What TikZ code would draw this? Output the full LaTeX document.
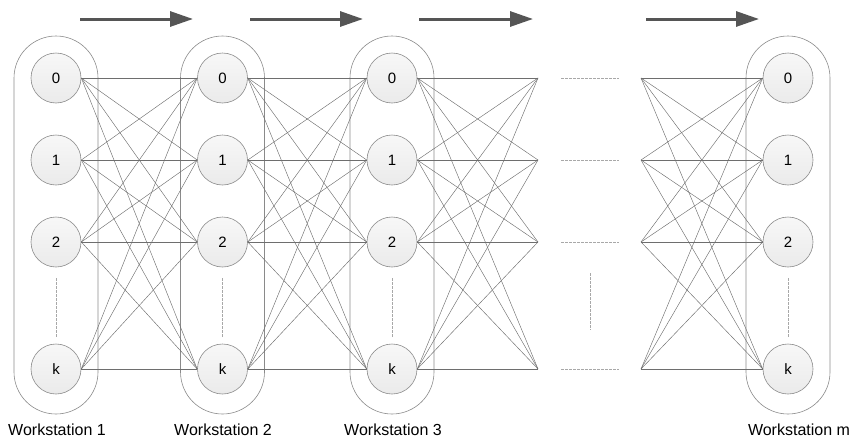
\documentclass[tikz,border=0pt]{standalone}
\usepackage{fontspec}
\setmainfont{Liberation Sans}
\usetikzlibrary{arrows.meta}
\definecolor{linegray}{HTML}{6E6E6E}
\definecolor{boxgray}{HTML}{8A8A8A}
\definecolor{arrowgray}{HTML}{555555}
\definecolor{dashgray}{HTML}{A8A8A8}
\begin{document}
\begin{tikzpicture}[x=1pt,y=-1pt,
  station/.style={draw=boxgray,line width=0.6pt,rounded corners=42pt},
  job/.style={circle,draw=boxgray,line width=0.6pt,top color=black!3,bottom color=black!8,minimum size=50pt,inner sep=0pt,font=\fontsize{15}{15}\selectfont},
  link/.style={draw=linegray,line width=0.45pt},
  flow/.style={draw=arrowgray,line width=3pt,-{Triangle[length=23pt,width=15pt]}},
  gap/.style={draw=dashgray,line width=0.6pt,dash pattern=on 2.5pt off 1.5pt},
  wslabel/.style={font=\fontsize{16}{16}\selectfont,anchor=base}]
\useasboundingbox (0,0) rectangle (856,442);
% containers
\draw[station] (14,36) rectangle (98,414);
\draw[station] (180.5,36) rectangle (264.5,414);
\draw[station] (350,36) rectangle (434,414);
\draw[station] (746,36) rectangle (830,414);
% nodes
\foreach \w/\x in {1/56,2/222.5,3/392,m/788}{
  \node[job] (w\w n0) at (\x,78) {0};
  \node[job] (w\w n1) at (\x,160) {1};
  \node[job] (w\w n2) at (\x,242) {2};
  \node[job] (w\w nk) at (\x,369) {k};
  \draw[gap] (\x,278) -- (\x,337);
}
% fan end points
\foreach \r/\y in {0/78,1/160,2/242,k/369}{
  \coordinate (fa\r) at (538,\y);
  \coordinate (fb\r) at (641,\y);
  \coordinate (da\r) at (561,\y);
  \coordinate (db\r) at (619,\y);
  \draw[gap] (da\r) -- (db\r);
}
\coordinate (vd1) at (590,273);
\coordinate (vd2) at (590,330);
\draw[gap] (vd1) -- (vd2);
% links
\foreach \i in {0,1,2,k}{
  \foreach \j in {0,1,2,k}{
    \draw[link] (w1n\i.east) -- (w2n\j.west);
    \draw[link] (w2n\i.east) -- (w3n\j.west);
    \draw[link] (w3n\i.east) -- (fa\j);
    \draw[link] (fb\i) -- (wmn\j.west);
  }
}
% arrows
\coordinate (a1s) at (80,19);  \coordinate (a1e) at (193,19);
\coordinate (a2s) at (250,19); \coordinate (a2e) at (363,19);
\coordinate (a3s) at (419,19); \coordinate (a3e) at (533,19);
\coordinate (a4s) at (646,19); \coordinate (a4e) at (759,19);
\draw[flow] (a1s) -- (a1e);
\draw[flow] (a2s) -- (a2e);
\draw[flow] (a3s) -- (a3e);
\draw[flow] (a4s) -- (a4e);
% labels
\node[wslabel] (l1) at (57,435) {Workstation 1};
\node[wslabel] (l2) at (223,435) {Workstation 2};
\node[wslabel] (l3) at (393,435) {Workstation 3};
\node[wslabel] (lm) at (799,435) {Workstation m};
\end{tikzpicture}
\end{document}
